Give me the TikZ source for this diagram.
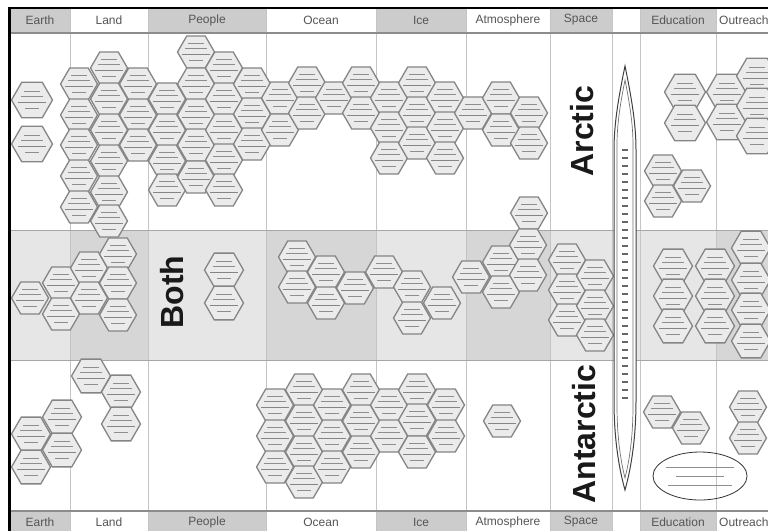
\documentclass[tikz,border=0pt]{standalone}
\usepackage{fontspec}
\setmainfont{Liberation Sans}
\usetikzlibrary{shapes.geometric}
\definecolor{hdrgray}{HTML}{CCCCCC}
\definecolor{bothlight}{HTML}{E6E6E6}
\definecolor{bothdark}{HTML}{D6D6D6}
\definecolor{hexfill}{HTML}{EBEBEB}
\definecolor{hexline}{HTML}{858585}
\definecolor{gridcol}{HTML}{C4C4C4}
\definecolor{hdrtext}{HTML}{555555}
\definecolor{marks}{HTML}{8E8E8E}
\tikzset{
  hexcell/.style={regular polygon, regular polygon sides=6, minimum size=37pt,
    inner sep=0pt, outer sep=0pt, draw=hexline, fill=hexfill, line width=1.3pt},
  hexbig/.style={hexcell, minimum size=41pt},
  hexmid/.style={hexcell, minimum size=39pt},
  scribble/.style={draw=marks, line width=1pt},
  divline/.style={draw=hexline, line width=0.7pt},
  gridl/.style={draw=gridcol, line width=1pt},
  rowline/.style={draw=black!35, line width=1pt},
  hdrline/.style={draw=black!45, line width=1.4pt},
  hdrlabel/.style={font=\fontsize{12}{12}\selectfont, text=hdrtext, inner sep=0pt},
  bigword/.style={font=\fontsize{32}{32}\selectfont\bfseries, text=black!90, rotate=90, inner sep=0pt},
  spindleline/.style={draw=black!75, line width=1pt, fill=white},
}
\newcommand\hexmarks[1]{%
  \draw[scribble] ([shift={(-8pt,9pt)}]#1.center) -- ++(16pt,0pt);
  \draw[scribble] ([shift={(-11pt,3.5pt)}]#1.center) -- ++(22pt,0pt);
  \draw[divline] ([shift={(-14pt,-2pt)}]#1.center) -- ++(28pt,0pt);
  \draw[scribble] ([shift={(-7pt,-8pt)}]#1.center) -- ++(14pt,0pt);
}
\begin{document}
\begin{tikzpicture}[x=1pt,y=-1pt]
\useasboundingbox (0,0) rectangle (768,531);
\clip (0,0) rectangle (768,531);
\fill[white] (0,0) rectangle (768,531);
% Both row band
\fill[bothlight] (10,230) rectangle (768,360);
\foreach \a/\b in {70/148,266/376,466/550,716/768}
  \fill[bothdark] (\a,230) rectangle (\b,360);
% header cells
\foreach \a/\b/\c in {10/70/hdrgray,70/148/white,148/266/hdrgray,266/376/white,
  376/466/hdrgray,466/550/white,550/612/hdrgray,612/640/white,640/716/hdrgray,716/768/white}{
  \fill[\c] (\a,9) rectangle (\b,33);
  \fill[\c] (\a,511) rectangle (\b,531);
}
% column lines
\foreach \xx in {70,148,266,376,466,550,612,640,716}
  \draw[gridl] (\xx,9) -- (\xx,531);
% row lines
\draw[hdrline] (10,33) -- (768,33);
\draw[hdrline] (10,511) -- (768,511);
\draw[rowline] (10,230) -- (768,230);
\draw[rowline] (10,360) -- (768,360);
% header labels
\foreach \xc/\t [count=\k] in {40/Earth,109/Land,207/People,321/Ocean,421/Ice,
  508/Atmosphere,581/Space,678/Education}{
  \node[hdrlabel] (top\k) at (\xc,20) {\t};
  \node[hdrlabel] (bot\k) at (\xc,522) {\t};
}
\node[hdrlabel, anchor=west] (topout) at (719,20) {Outreach};
\node[hdrlabel, anchor=west] (botout) at (719,522) {Outreach};

% ---------- Arctic ----------
\foreach \x/\y [count=\i] in {32/100,32/144,685/92,685/123,727/92,727/122,757/76,757/106,757/136}{
  \node[hexbig] (arb\i) at (\x,\y) {};
  \hexmarks{arb\i}
}
\foreach \x/\y [count=\i] in {
  79/84,79/115,79/145,79/176,79/207,
  109/68,109/99,109/130,109/161,109/192,109/221,
  138/84,138/115,138/145,
  167/99,167/130,167/161,167/190,
  196/52,196/84,196/115,196/145,196/177,
  224/68,224/99,224/130,224/160,224/190,
  252/84,252/114,252/144,
  280/98,280/130,
  307/83,307/113,
  334/98,
  361/83,361/113,
  389/98,389/128,389/158,
  417/83,417/113,417/143,
  445/98,445/128,445/158,
  473/113,
  501/98,501/130,
  529/113,529/143,529/213,
  663/171,663/201,692/186}{
  \node[hexcell] (ar\i) at (\x,\y) {};
  \hexmarks{ar\i}
}
% ---------- Both ----------
\foreach \x/\y [count=\i] in {
  30/298,61/283,61/314,89/268,89/298,118/254,118/283,118/315,
  297/257,297/287,326/272,326/303,355/288,384/272,412/287,412/318,442/303,
  471/277,501/262,501/292,528/245,528/275,
  567/260,567/290,567/320,595/276,595/306,595/335}{
  \node[hexcell] (bo\i) at (\x,\y) {};
  \hexmarks{bo\i}
}
\foreach \x/\y [count=\i] in {
  224/270,224/303,673/266,673/296,673/326,715/266,715/296,715/326,
  751/248,751/280,751/310,751/341}{
  \node[hexmid] (bom\i) at (\x,\y) {};
  \hexmarks{bom\i}
}
% ---------- Antarctic ----------
\foreach \x/\y [count=\i] in {31/434,31/467,62/417,62/450,91/376,121/392,121/424}{
  \node[hexmid] (anm\i) at (\x,\y) {};
  \hexmarks{anm\i}
}
\foreach \x/\y [count=\i] in {
  275/405,275/436,275/467,
  304/390,304/421,304/452,304/482,
  332/405,332/436,332/467,
  361/390,361/421,361/452,
  389/405,389/436,
  417/390,417/420,417/452,
  446/405,446/436,
  502/421,
  662/412,691/428,748/407,748/438}{
  \node[hexcell] (an\i) at (\x,\y) {};
  \hexmarks{an\i}
}

% ---------- row titles ----------
\node[bigword] (tArctic) at (582,131) {Arctic};
\node[bigword] (tBoth) at (172,292) {Both};
\node[bigword] (tAntarctic) at (584,434) {Antarctic};

% ---------- spindle ----------
\draw[spindleline] (625,66) .. controls (618,100) and (614,125) .. (614,150)
  -- (614,400) .. controls (614,435) and (618,465) .. (625,490)
  .. controls (632,465) and (636,435) .. (636,400)
  -- (636,150) .. controls (636,125) and (632,100) .. (625,66) -- cycle;
\draw[draw=black!55, line width=0.7pt] (625,80) .. controls (620,105) and (617,125) .. (617,145)
  -- (617,405) .. controls (617,435) and (620,458) .. (625,478)
  .. controls (630,458) and (633,435) .. (633,405)
  -- (633,145) .. controls (633,125) and (630,105) .. (625,80) -- cycle;
\foreach \yy in {150,158,...,398}
  \draw[draw=black!60, line width=1.2pt] (622,\yy) -- (628,\yy);

% ---------- credit ellipse ----------
\node[ellipse, draw=black!80, line width=0.8pt, minimum width=94pt, minimum height=48pt] (credit) at (700,476) {};
\draw[scribble] ([shift={(-34pt,9pt)}]credit.center) -- ++(68pt,0pt);
\draw[scribble] ([shift={(-24pt,0pt)}]credit.center) -- ++(48pt,0pt);
\draw[scribble] ([shift={(-32pt,-9pt)}]credit.center) -- ++(64pt,0pt);

% ---------- frame ----------
\draw[black, line width=1.6pt] (8,8) -- (768,8);
\draw[black, line width=3.5pt] (9.3,7) -- (9.3,531);
\end{tikzpicture}
\end{document}
